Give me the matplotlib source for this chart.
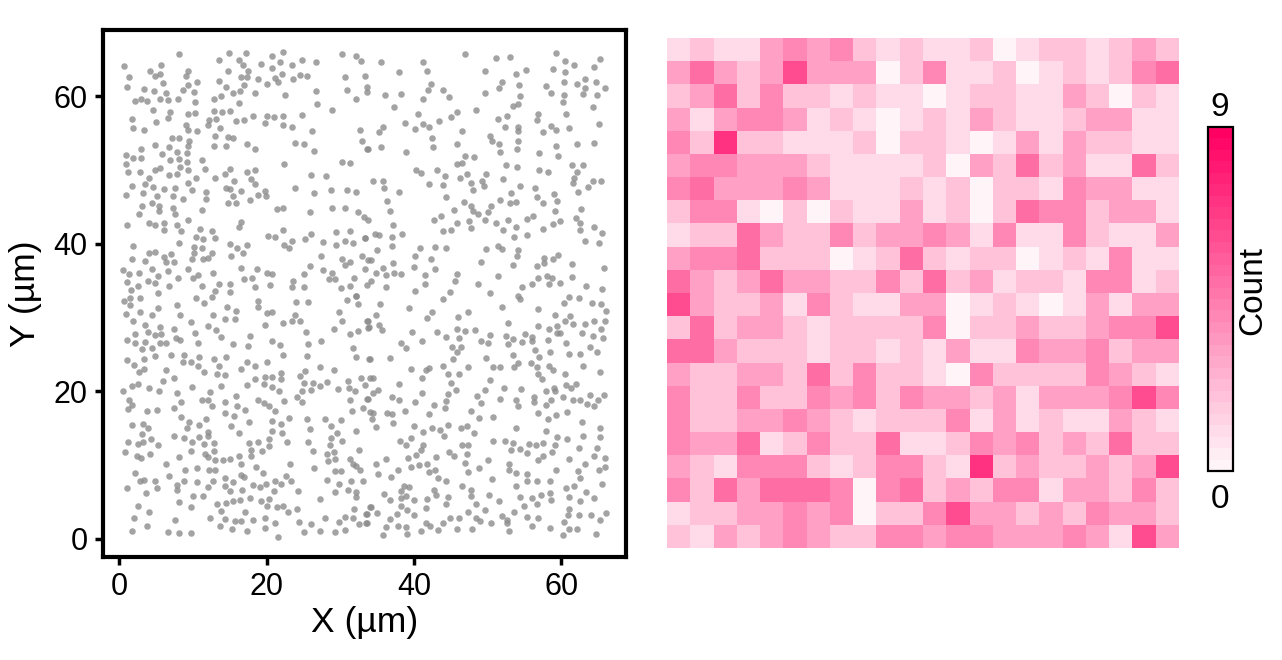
import numpy as np
import matplotlib
matplotlib.use('Agg')
import matplotlib.pyplot as plt
from matplotlib.colors import LinearSegmentedColormap, Normalize
from matplotlib.cm import ScalarMappable

plt.rcParams['font.family'] = ['Liberation Sans', 'DejaVu Sans']

# spot positions in um, flat x,y pairs, one list per quadrant of the field
spots_upper_left = [
8.1,65.8, 0.7,64.1, 1.3,62.6, 1.1,61.3, 5.7,64.2, 4.2,63.4, 4.9,62.7, 5.6,63.0, 5.9,61.8, 3.3,61.0, 4.7,60.7, 6.4,60.4, 5.5,59.7, 6.6,59.5,
2.2,59.4, 3.0,59.6, 3.8,59.4, 8.0,59.7, 9.4,63.4, 9.0,62.8, 9.3,61.6, 8.7,60.9, 10.5,62.0, 10.2,60.6, 10.3,59.2, 13.6,64.9, 14.9,65.9, 14.8,63.4,
13.6,62.1, 14.5,61.3, 13.8,60.1, 12.9,59.6, 15.5,60.5, 16.4,60.7, 16.3,59.1, 17.2,65.9, 16.3,64.9, 16.8,64.2, 17.5,63.5, 16.6,62.6, 17.4,62.6, 17.0,61.6,
18.4,60.5, 18.8,62.3, 19.2,64.4, 20.8,65.5, 22.2,66.0, 21.8,64.7, 20.8,63.8, 22.1,63.1, 21.1,62.5, 21.5,61.9, 20.0,61.7, 22.5,60.2, 23.4,64.2, 24.8,65.0, 26.7,64.7,
24.6,62.9, 25.5,62.8, 23.6,62.3, 26.7,60.7, 26.9,59.0, 28.9,58.1, 30.2,65.8, 32.2,65.5, 32.8,64.8, 30.7,62.6, 33.3,62.8, 30.9,60.8, 32.1,59.7, 33.6,61.3, 33.6,60.6,
4.6,58.2, 6.9,57.9, 6.6,57.1, 1.7,57.0, 5.0,56.5, 1.9,55.7, 3.3,55.5, 9.4,57.6, 10.3,57.7, 12.9,58, 13.9,57.9, 15,58, 13.1,57, 12.2,56.8, 12,56.1,
15.9,56.6, 16.9,56.8, 18.1,57.4, 20,57.4, 21,57.2, 22.2,57.4, 19.8,56.4, 24.8,57.5, 22.2,56.1, 23.5,55.9, 26.2,55.3, 9,56.1, 9.4,55.5, 10.5,55.3, 13.7,55.7,
7.2,54.4, 8.1,54.4, 9.5,54, 13,54.6, 14.8,54.5, 15.5,54.4, 9.4,53.3, 4.9,53.4, 6.8,53.1, 12.9,53.3, 14.5,53.3, 17.3,53.6, 18.4,52.8, 23.8,53.7, 25.1,53.6, 26.5,52.6,
32.7,55.5, 32.9,54, 33.6,52.8, 3,52.8, 0.9,52.1, 1.9,51.7, 3,51.7, 5.8,52.2, 7.8,52.4, 9.2,52.3, 6.9,51.4, 8.1,51.5, 9.2,51.1, 11.2,51.4, 0.9,50.9, 1.2,49.8, 2.8,49.7,
4.8,50, 5.5,50.3, 8.3,50.4, 9.4,50, 7.9,49.5, 6.8,49.4, 11.7,50.2, 15.1,50.2, 14.4,49.5, 13,49, 10.4,48.9, 4.1,49, 3.5,48.1, 1.7,47.8, 4.6,47.7, 0.9,46.6, 3.2,46.9, 5.1,46.5,
6.1,47.4, 7.6,47.6, 9.4,48.2, 9.9,47.3, 7.3,46.5, 11.8,47, 11.8,46.1, 8.6,46.1, 17.3,49.8, 18.5,50, 17.9,48.8, 18.5,48.1, 15.6,48.5, 14.5,47.6, 15,47.5, 16.6,47.2, 15.5,46.5,
19.8,47.2, 19.9,46.5, 18.9,46.6, 17.8,45.9, 15.9,45.6, 14.8,45.5, 22.4,50.9, 26,49.3, 28.1,49.2, 23.9,47.6, 26.5,46.9, 28.8,47.3, 30.9,47.3, 32.1,47, 30.3,51.1, 31.3,51,
4.4,45.6, 3.1,45.2, 2.7,44.1, 5.4,45.2, 5.4,44.4, 7.3,44.8, 7.6,44, 11.2,44.6, 21.4,44.7, 22.2,44.9, 25.9,44.3, 28.9,44.9, 30.6,44.9, 32.4,44.3, 33.2,43.7, 33.8,43.2,
1.1,42.5, 4.1,42.8, 4.8,42.5, 6.1,42.8, 6.1,41.9, 7.8,42.6, 9.3,43.3, 8.4,41.7, 16.6,43, 16.3,42.3, 22.2,41.9, 11,42, 12.6,41.8, 10.4,41, 11.4,40.6, 13,40.8, 8.1,40.1,
20.2,41.1, 21.2,40.9, 26,41.4, 25.2,40.7, 23.4,40.4, 22.4,39.9, 23.1,39.5, 29.4,41.6, 31.3,41.7, 30.6,40.4, 29.4,39.9, 31.8,40.1, 33.3,40.8, 27.6,40.2,
1.9,39.7, 10.1,39.6, 11.3,39.5, 10.2,38.7, 15.1,40, 17.3,39.8, 16,39.4, 16.8,38.8, 15.2,38.4, 4.9,38.9, 4.1,38.7, 7,38.6, 6.1,38.2, 1.8,37.9, 3.5,37.7, 6.4,37.6, 7.4,37.5,
9.9,37.9, 12.6,38.7, 12,38.1, 11.4,37.9, 27.4,38.4, 30.3,38, 31.3,37.6, 30.7,37.2, 33,38.4, 33.8,37.8, 25.9,37, 0.5,36.4, 1.3,35.9, 2.7,36.1, 4.4,36.6, 6.6,36.3, 5.2,35.7,
3.9,35, 4.8,34.7, 1,34.9, 1.6,33.8, 2.5,34.3, 6.7,34.3, 9.4,36.6, 10.7,35.8, 10,35.4, 8,35.4, 12.7,36, 11.3,34.3, 13.6,34.5, 13,33.6, 15,34.6, 15,33.5,
16.6,36.8, 18.7,36.6, 20,36.1, 20.8,35.9, 17,35.3, 18,35.4, 18.4,34.1, 20.5,34.4, 23.6,35, 23.5,34.2, 25.1,35.9, 25.1,34.2, 27.7,36.4, 28.9,36.1, 28.5,35.2, 29.3,35.3,
31.9,35.4, 30.1,34, 31.3,34.3, 33.6,34.4, 32.2,33, 5.3,33.3,
]
spots_upper_right = [
35.6,64.7, 38,63.3, 36.1,60.2, 38.2,60.3, 37.3,58.5, 41.2,64.7, 41.8,63.4, 42.3,61.7, 41.9,60.8, 41.2,59.7, 43.9,60.9, 44.8,59.9, 46.9,65.7, 51.1,65.2, 53.1,65.4,
49.7,63.5, 53.8,63.1, 55.2,63.6, 51.9,62, 51.6,61.2, 54.3,61.5, 49.6,60.5, 54.4,60, 54.1,58.9, 53.4,58.7, 59.3,65.9, 60.5,64.8, 61.8,64.2, 58.9,63.7, 60.5,63.3, 65.3,65.1, 64.5,64,
60.4,62, 62.1,61.7, 63.3,62.3, 63.2,61.2, 64.7,62, 66,61.2, 58,61.4, 58.6,60.4, 60.4,60.2, 60.2,59.3, 62.9,60.3, 64.9,60.2, 64.3,58.5, 60.7,57.6, 65.1,56.2,
40.5,57.6, 38.8,56.4, 40.2,55.6, 41.3,56.3, 42,55.8, 43.4,56.7, 35.8,55.9, 35.3,55.2, 45.8,57.9, 45.1,57.2, 48.4,58.1, 46.5,55.3, 42.4,54.4, 42.6,53.1, 45.9,53.5, 35.6,53.1, 33.8,52.8, 39,52.4,
51.4,57, 52.6,57.3, 52.4,55.8, 54.2,55.9, 54.2,55.3, 54.2,54, 56.9,57.6, 56.7,56.8, 57.6,55.2, 58.6,56, 59.3,55.4, 61,55.7, 50.4,54.6, 50.6,53.9, 51.6,53.5, 51.7,52.4, 54,52.8,
59.3,53.3, 62.1,53.6, 64.4,53.7, 57,52.3, 59.6,51.9, 48.1,51.8, 46.9,51.9, 46.6,51, 45.9,50.9, 40.3,50, 41,49.6, 43.2,50, 44.2,49.2, 42,48.1, 44,48, 44.3,46.3,
34.5,48.5, 35.8,48.5, 35.9,47.6, 38,47, 36.3,45.8, 36.8,44.5, 47.2,49.5, 46.3,49, 49.8,49.5, 47.8,48.3, 48,47.3, 49.3,48.5, 49.5,47.8, 52.1,48.8, 52.5,50.7, 54,50.4,
57,50, 58.2,49.7, 61.5,50.7, 62.9,50.7, 62.1,49.8, 61.8,49, 61.6,48.2, 64.3,48.5, 65.4,48.5, 63.7,47.7, 54.4,47.9, 56.5,47.6, 53.2,46.9, 56.7,46.4, 59,46.7, 59.4,45.8, 57.5,45.6, 62.3,47,
51.7,45.9, 53.1,45.6, 53.8,45.7, 46.8,45.7, 47.7,45.1, 48,44.4, 48.7,44.1, 50.5,45.1, 50.1,44.3, 45.5,44.6, 59.1,44.5, 62.7,44.7, 62,43.5, 62.5,42.8, 62.5,41.9,
42.7,43.2, 43.7,43.8, 45.9,42.9, 47.5,43.1, 49.7,43.3, 51.2,42.9, 52.8,43.2, 55.3,43.4, 56.2,43.8, 37.2,42.6, 34.7,41.3, 35.3,41.2, 37,41, 38.4,41.4, 33.4,40.8, 37.1,39.7,
44,41.8, 45.1,41.9, 47.8,42.1, 52.1,41.9, 53.8,42.3, 55.3,41.2, 53.6,40.9, 57.6,42, 58.9,42.7, 59.9,43.1, 64.5,42.3, 65.5,41.5, 63.2,40.4, 65.2,40.1,
35,39.2, 40.9,39.4, 42.9,39.6, 44.4,39.4, 40.1,38.3, 42.3,38, 37.2,37.4, 34.2,37.8, 49.8,39.3, 51.4,39.7, 52,39.3, 54.2,39.2, 54,38.4, 49.1,37.5, 53.5,37.1,
59.6,38.5, 58.9,38, 57.7,38.1, 57.7,37.4, 56.7,37, 61.5,37.3, 65.8,36.8, 40,36.9, 42.9,36.6, 35.8,36.7, 34.8,36, 36.2,35.8, 37.3,36.1, 38.2,35.9, 33.4,36.6,
41.5,35.8, 45.8,35.9, 45.6,35, 41.5,34.6, 51.4,35.6, 56.8,35.4, 58.1,35.6, 58.8,35.4, 61.5,35.5, 34.2,35, 36.2,34.1, 40.1,33.6, 44.9,33.5, 48.7,34.6, 50.4,33.3, 54.7,34.1, 56.1,34.5, 58.4,34.5, 59.9,34.7, 63.4,34.3, 65.6,33.9,
]
spots_lower_left = [
2.8,32.7, 1.5,32.7, 0.7,32.2, 1.5,31.7, 10.4,32.6, 11.5,32, 12.6,32.8, 7.8,31.7, 14.6,31.5, 18.8,31.5, 18.9,32.2, 24,32.1, 25.6,32.1, 30.9,32.4, 32.2,33, 32.4,31.9,
5.2,31.3, 2.8,30.8, 0.9,30.5, 4.4,30.3, 8.2,30.3, 1.9,29.5, 12.7,30.4, 15.9,30.9, 14.3,29.8, 15.7,29.8, 20,30.6, 20.8,30.8, 23.8,30.4, 23.5,29.6, 24.6,29.5, 22.2,29.3, 19.8,29,
29.8,30.8, 30.2,29.5, 29.1,28.4, 31.3,27.8, 32.4,28.2, 33.7,29.5, 33.8,28.6, 9.8,29.4, 3.5,29, 5.6,28.8, 7.5,28.4, 12,28.9, 13.2,28.3, 10.3,27.9, 13.8,27.4,
2.1,27.8, 3.9,28.1, 4.8,27.6, 5.7,27.8, 7.7,27.3, 8.3,27, 25.4,28.1, 17.8,27.5, 17.5,26.2, 1,27, 2.1,26.5, 3.5,26.7, 5.5,26.5, 6.4,26.6, 4.5,25.9, 3.1,25.7, 10.7,26.6, 15.4,26.4,
20.7,26.9, 21.8,26.3, 25.6,26.4, 27.4,26.8, 31.7,25.9, 25.5,24.8, 22.2,24.9, 32.2,24.6, 33.9,24.4, 1,24.3, 2,23.6, 3.3,24.4, 4.8,24.8, 7,24.9, 8.8,25, 8.6,24, 9.8,24, 10.9,24.6,
12.9,24.4, 14.5,24.6, 10.7,23.4, 13.5,23.5, 11.5,22.6, 17.4,24, 18.4,23.5, 20,24, 16.5,23.1, 2.7,22.6, 3.4,23, 6.4,22.9, 6,21.4, 7.4,21.8, 13.3,22.3, 14.4,22.2, 18.4,21.7,
19.8,22, 20.8,22, 22,22.5, 22,21.7, 24.5,22.1, 25.2,22.8, 27.2,23.3, 29.1,22.9, 31,21.4, 32.8,21.8, 34,21.8, 33.3,20.9, 31.2,20.5, 32,20, 29.7,20.3,
0.5,20.1, 1.8,20.8, 2.6,21, 4.1,20.4, 5.4,20.1, 7.9,19.8, 9.9,20.6, 13.8,20.8, 12.3,19.9, 17.4,20.9, 19.6,21, 20.8,20.6, 21.7,20.1, 24.8,20, 26,20.2, 25.1,21.2, 26.3,21.2, 27.3,20.8, 28.2,21.3,
1.3,18.8, 1.8,18.1, 1.2,17.6, 8.4,18.5, 7.5,17.7, 3.8,17.4, 5.1,17.5, 11.2,18.8, 12,18.8, 12.6,18, 15.8,19.4, 14.4,18.5, 16,18, 14.4,17.1, 17.1,17.5, 15.6,16.7,
18.8,18.8, 19.6,18.4, 20.3,18, 21.2,17.3, 22.4,18.7, 24.1,19.3, 24.8,18.6, 31.3,18.8, 31.6,17.4, 33.1,17.8, 33.6,19, 34.1,17.2, 8.4,16.5, 9.5,15.9, 9.2,15.1, 11.8,16.3, 10.9,15.5, 1.8,15.5, 3.2,15.6, 3.9,15,
15.2,15.3, 17.6,15.8, 16.3,14.4, 20.7,16, 21.9,15.6, 23.1,16.4, 25.5,16.3, 25.9,14.9, 20.7,14.6, 22.1,14.3, 28,16.3, 28.8,15.3, 30.1,16.1, 29.6,14.4, 32.1,14.6,
3.1,14.2, 4.3,13.5, 7.5,13.9, 8.8,13.7, 9.9,13.2, 10.8,13.8, 12.1,14.5, 12.1,13.9, 11.5,12.9, 12.9,13, 1.2,13.2, 2.5,12.9, 3.2,13.1, 5.2,12.8, 0.8,11.8, 2.4,11.2, 3,11, 4.2,11.5,
17.6,13, 18.9,13.1, 20.3,13.6, 20.4,12.6, 22.8,13.2, 25.6,13.2, 28.7,13.7, 28.6,12.8, 30.2,13.3, 9.8,11.9, 12.9,11.9, 11.7,11.5, 8.1,11.1, 17.9,12.1, 17.9,11.2, 19.4,11.9, 26.3,11.9, 32.6,12.1,
28.2,11.5, 29.1,11.8, 28.3,10.6, 29.3,10.8, 31.3,10.8, 12.1,11.1, 13,10.7, 14.1,10.7, 15.1,10.9, 16.3,11.2, 16.5,10.2, 6.4,10.1, 23.2,10.2, 18.6,9.7, 26.4,9.6, 19.5,9, 10.6,9.6, 8.9,9.3, 12.2,9.3, 13,9.3,
31.7,10.1, 32.2,9.9, 32.7,9.3, 29.3,9.2, 30.1,9.2, 2.2,8.9, 6.8,8.5, 16.6,8.6, 16.9,8.4, 22.6,8.5, 3.3,8, 2.8,7.8, 4.9,7.9, 1.1,6.9, 5.1,6.9, 3.6,6.2, 8.8,7.9, 10.6,7.7, 12.7,7.9, 7.9,7.3, 7.9,6.7, 12,7,
14.3,8.2, 14.3,7.2, 15.5,7.7, 15.1,6.5, 16.7,6.6, 18.2,7.3, 19.1,7, 19.9,7.5, 21.2,7.9, 22,7.4, 23.3,7.8, 28.2,8, 29.8,7.5, 31.5,7.8, 33.1,7.8, 24.3,6.5, 21,6.5, 31.1,6.6, 32.1,6.4, 29.3,6.4, 32.2,5.7, 27.3,5.4,
10,5.8, 11.4,5.8, 8.1,5, 9.8,4.3, 2.5,4.5, 4.1,3.7, 17.8,5.6, 20.4,5.4, 19.3,5.2, 20.1,4.5, 13.3,4.8, 14.5,4.9, 15.5,5.1, 16.4,5.3, 13.8,3.8, 21.4,4.3, 22.2,4.4, 22.9,3.6, 24.1,4, 17.1,3.6,
2,2.8, 7.6,2.5, 12.3,2.9, 14.4,2.7, 15.7,2.4, 16.5,2.4, 18.1,2.6, 19.8,2.9, 21.1,2.2, 24.4,2.3, 28,2.8, 29.8,2.3, 30.6,3, 31.7,2.9, 32.5,2, 33.5,2.1, 33.5,3.4, 31.9,4.1, 34,4.3,
3.8,1.8, 1.7,1.1, 13.7,1.8, 15.3,1.4, 17.3,1.1, 19.8,1.5, 21.6,0.3, 26.1,2, 25.1,1, 27.3,1.1, 29.3,1, 30.7,1.2, 6.6,0.9, 8.1,0.8, 9.7,0.8,
]
spots_lower_right = [
35.4,31.9, 39.4,31.3, 43.9,32.5, 52,31.5, 56.8,31.2, 54.2,33, 54.4,32.5, 60.4,32, 61,32.8, 62.4,32.7, 64.2,32, 65.4,31.9, 66.1,30.9, 34.8,30.3, 42.5,30.8, 41.8,30, 46,30.1, 47.4,30.8, 33.8,29.6, 33.9,28.7, 35.3,29, 35.7,28.3,
52.8,29.3, 59.2,30.3, 61.2,30.2, 60.5,29.6, 61.6,29.2, 59.5,28.9, 63.3,29.2, 64.5,29.5, 65.9,29.6, 65.4,28.5, 56.9,28.9, 58.3,28.4, 59.4,27.9, 59.8,27.9, 62.8,27.9, 64.3,27.5, 65.7,27.2,
39.7,28, 43.1,28, 44.4,27.4, 45.9,28.4, 46.9,28.2, 48.3,28.3, 46.1,27.2, 50.3,27.7, 49.1,26.9, 50,26.5, 52.5,27.5, 53.4,27.1, 52.8,26.4, 55.1,27.8, 56.1,27.4, 54.7,26.7, 56,26.9, 58.2,27,
38.3,26.6, 39,25.9, 41.1,26.8, 45.2,26, 46.4,26, 45.8,25.3, 45.3,24.4, 60.6,26.5, 63.9,26, 64.9,25.3, 61.1,25.1, 62.6,25.1, 58.5,25.3, 56.5,25.6, 57,24.6,
34.1,24.4, 36.7,24.5, 49.8,24.5, 53.5,24.9, 54.2,23.8, 53.6,23.3, 55.9,23.8, 56.7,23.3, 58.4,23.4, 58.9,22.9, 50.8,23.3, 51.7,23.3, 63,23.5, 65.3,22.6, 60.5,22.3,
39.6,23.1, 42,23.2, 41.7,22.9, 41.1,21.8, 44,23.4, 44.6,22.4, 46.1,22.4, 47.3,23.3, 34.4,21.8, 56.8,22.3, 57.4,21.7, 50.4,21.6, 45.1,21.2, 38,21,
45.7,20.2, 35.1,20.2, 34.4,19.8, 33.8,19, 37,19.2, 38,18.8, 40.2,18.5, 41.1,19.8, 44.7,19.6, 44.3,18.7, 44.2,17.8, 42.8,18.2, 42.1,17, 38.8,17.4, 49.6,20.2, 48.6,19.4, 49.1,18.4, 47.8,17.4,
52.2,20.4, 54.6,20.3, 51.7,19, 53.8,18.8, 54.1,18, 56.3,19.3, 56.3,18.5, 58,20.1, 58.6,18.9, 58,18.1, 59,20.5, 59.1,20.1, 60.3,19.3, 60.7,20.9, 61.3,20.4, 62,21, 63.9,19.5, 65.8,19.5, 65,18.8, 61.6,18.8, 62.5,18.8, 63.5,18.3, 64.4,18,
34.4,17.1, 34.3,16.2, 36.3,17.1, 37,16.9, 37.2,15.7, 34.8,15.2, 48.8,16.4, 50.8,16.5, 56.9,17.1, 59.3,16.8, 60.8,17.2, 58.2,16.2, 62.8,15.9, 53.8,15.1, 57.9,14.7, 65.3,15,
40,15.3, 41.2,14.5, 42.4,15, 43.6,14.8, 44.7,15.5, 44.1,13.9, 46.4,15.1, 47.2,15.3, 48.2,14.4, 39.6,13.7, 38.1,13.3, 39,12.8, 41.2,12.7, 41,12.1, 40.3,11.4, 39.2,11, 46.5,12.8, 47.3,12.8,
50.8,13.3, 52.4,13.3, 53.4,13, 53.2,12.1, 54.4,12.2, 55.3,11.6, 55.6,12.9, 56.6,12.7, 57.6,13, 59.1,12.8, 59.4,13.8, 58.8,11.8, 60.8,13.5, 62.9,14, 65.3,13.8,
62.4,12.3, 64.9,12.3, 64.4,11.2, 65.9,11, 61,10.8, 63.2,10.2, 57.5,11.2, 56.8,10.7, 44.8,11.8, 45.4,11.2, 43,11.1, 47.2,11.5, 46.9,10.3, 50.1,10.7, 52.9,10.1, 47.3,9.1,
34.8,10.2, 36.2,10.8, 35.1,8.8, 36.9,8.4, 37.9,9.4, 39.6,9.8, 40.7,10, 41.8,10.1, 42.1,9.1, 42.9,9.3, 43.3,8.3, 44.3,7.8, 48.9,9.6, 52.9,9.3, 53.9,8.9, 55.3,8.8, 59.3,9.3, 62.3,9.2, 62.6,8.3, 66,9.8, 65.2,9.3,
50.6,8.1, 55.3,7.8, 56.7,7.8, 58.5,7.9, 53.8,7.2, 61.7,7.2, 60.7,6.9, 65.6,7.4, 46.6,7.2, 38.7,7.2, 39.3,7, 38.2,6.5, 38.2,5.6, 39,5.8, 40,5.3, 36,6.1, 36.8,5.3, 42.8,6.7, 43,6,
47.8,6.7, 47.7,5.8, 50.2,5.9, 44.6,5.7, 44.4,4.8, 41.8,5.4, 41.6,4.2, 51.6,5.1, 54.4,5.7, 56.1,5.5, 57.2,5.9, 56.7,4.8, 54.9,4.5, 58.5,6.2, 58.6,5.3, 61,5.7, 62.6,5.2, 63.4,6.4, 64.5,5.6,
38.3,4.5, 34.2,4.3, 33.6,3.4, 35,3.5, 39.1,3.9, 40,3.3, 37.7,3.4, 36.7,2.7, 33.7,2.1, 48.4,4.7, 49.6,3.9, 47.4,3.7, 53.6,3.7, 51.9,3.1, 52.6,2.6, 55.3,3, 56.9,2.8, 61.1,4.1, 60.9,3.2, 62.4,3.2, 64.1,3.2, 66.1,3.5,
44.9,2.8, 46.1,2.8, 48.4,2.9, 49,2.4, 50.5,2.1, 43.9,2.1, 41.6,2.1, 42.2,1.7, 60.4,2.3, 65.3,2.5, 52.6,2.1, 56,1.8, 36.2,1.6, 37.8,1.8, 39,1.6, 58.5,1.5, 61,1.4, 62.1,1.4,
35.8,0.5, 39.1,0.7, 41,1.1, 43.3,1.2, 45.9,1.3, 47.9,1.3, 52.9,1.1, 60.2,0.5, 64.7,0.7,
]

# spots per 3 um bin, top row first
counts = [
[1,2,1,1,3,4,3,4,2,1,2,1,1,2,0,1,2,2,1,2,3,2],
[3,5,3,2,3,6,3,3,3,0,2,4,1,1,2,0,1,2,1,2,4,5],
[2,3,5,2,4,2,2,1,2,1,1,0,1,2,2,1,1,3,2,0,2,1],
[3,1,3,4,4,3,1,2,1,0,1,2,1,3,2,1,1,2,3,3,1,1],
[4,2,7,2,2,1,1,1,2,0,2,2,1,0,1,3,1,3,2,2,1,1],
[3,4,4,3,3,3,2,1,1,1,1,2,0,3,2,5,2,3,1,1,5,2],
[4,5,3,3,3,4,3,1,1,1,2,1,2,0,2,2,1,4,3,3,1,1],
[2,4,4,1,0,2,0,2,1,1,3,1,2,0,2,5,4,4,2,3,3,1],
[1,2,2,5,3,2,2,4,2,3,3,4,3,1,4,1,1,4,2,1,1,3],
[3,4,4,5,2,2,2,0,1,2,5,2,1,2,2,0,1,2,1,4,1,1],
[5,3,2,3,5,3,3,2,2,4,2,5,2,3,1,2,2,1,4,4,1,2],
[6,3,2,2,3,1,4,2,1,1,3,3,0,1,2,1,0,1,3,1,3,3],
[2,5,2,3,3,2,1,2,2,2,2,4,0,2,2,3,2,2,3,4,4,6],
[5,5,3,2,2,2,1,2,2,1,2,1,3,1,1,4,3,3,4,2,3,3],
[3,2,2,3,3,2,5,2,4,2,2,1,0,4,2,2,2,2,4,3,2,1],
[4,2,2,4,2,2,4,3,4,2,4,3,3,2,3,1,3,3,3,4,6,4],
[4,2,2,3,3,4,3,2,1,2,2,2,4,1,3,1,2,1,1,3,2,1],
[4,3,3,5,1,2,4,2,2,5,1,1,2,4,3,4,2,3,2,5,2,2],
[3,2,1,4,4,4,2,1,2,4,4,2,1,7,2,3,2,2,3,2,3,6],
[4,2,5,3,5,5,5,4,0,4,5,2,3,2,4,4,1,3,3,2,4,2],
[1,2,2,3,3,4,3,4,0,2,2,4,6,3,3,2,3,2,4,3,3,2],
[2,1,3,2,3,4,3,2,2,4,4,3,4,4,3,3,3,4,3,1,6,3],
]
x_ticks = [0, 20, 40, 60]
y_ticks = [0, 20, 40, 60]

spots = np.array(spots_upper_left + spots_upper_right + spots_lower_left + spots_lower_right).reshape(-1, 2)

W, H = 1282, 660
fig = plt.figure(figsize=(W / 100, H / 100), dpi=100)


def add_axes_px(left, top, right, bottom):
    return fig.add_axes([left / W, 1 - bottom / H, (right - left) / W, (bottom - top) / H])


# scatter of spot positions
ax = add_axes_px(103, 30, 626, 557)
ax.scatter(spots[:, 0], spots[:, 1], s=22, color='#8c8c8c', alpha=0.8, linewidths=0)
ax.set_xlim(-2.2, 68.8)
ax.set_ylim(-2.45, 69)
ax.set_xticks(x_ticks)
ax.set_yticks(y_ticks)
ax.tick_params(labelsize=22, width=2.5, length=6, pad=5)
for side in ax.spines.values():
    side.set_linewidth(3)
ax.set_xlabel('X (µm)', fontsize=25.5, labelpad=3)
ax.set_ylabel('Y (µm)', fontsize=25.5, labelpad=8)

# binned counts
pink = LinearSegmentedColormap.from_list('pink_count', ['#fff5f9', '#ff0062'], N=30)
norm = Normalize(0, 9)
heat = add_axes_px(667, 38, 1179, 548)
heat.imshow(counts, cmap=pink, norm=norm, aspect='auto', interpolation='nearest')
heat.axis('off')

# colour bar with end labels
cax = add_axes_px(1208, 127, 1233, 471)
cbar = fig.colorbar(ScalarMappable(norm=norm, cmap=pink), cax=cax)
cbar.set_ticks([])
cbar.outline.set_linewidth(1.6)
fig.text(1220 / W, 1 - 108 / H, '9', fontsize=24, ha='center', va='center')
fig.text(1220 / W, 1 - 500 / H, '0', fontsize=24, ha='center', va='center')
fig.text(1253 / W, 1 - 290 / H, 'Count', fontsize=24, rotation=90, ha='center', va='center')

fig.savefig('out.png', dpi=100)
